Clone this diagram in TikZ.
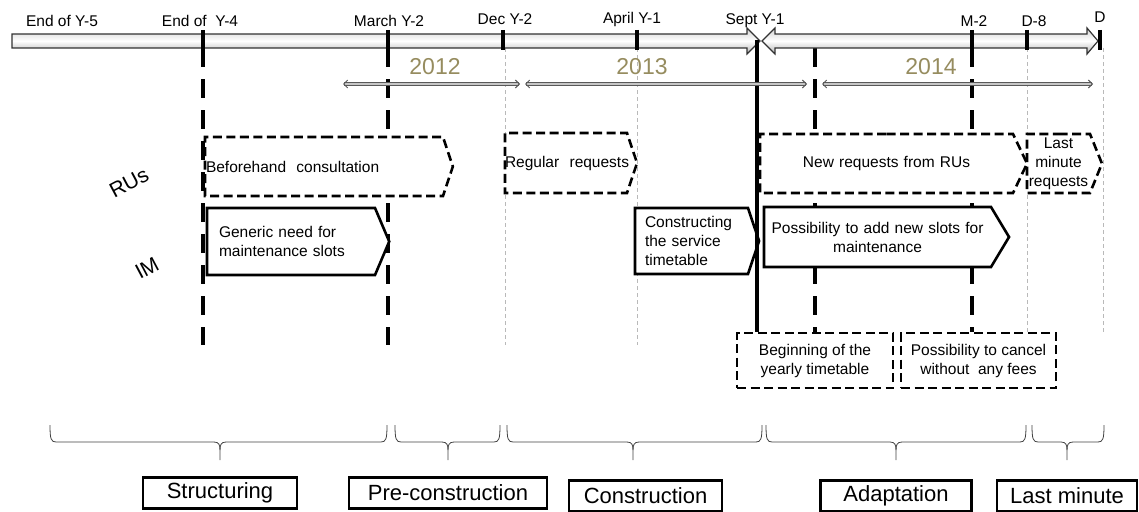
\documentclass[tikz,border=0pt]{standalone}
\usepackage{fontspec}
\setmainfont{Liberation Sans}
\usetikzlibrary{positioning,shapes.symbols,arrows.meta,backgrounds}

\definecolor{yearcol}{RGB}{150,140,95}

\begin{document}
\begin{tikzpicture}[x=1pt, y=-1pt,
            datelabel/.style={anchor=base, inner sep=0pt, font=\fontsize{15.5}{18}\selectfont},
            yearlabel/.style={inner sep=0pt, text=yearcol, font=\fontsize{23}{27}\selectfont},
            rowlabel/.style={inner sep=0pt, rotate=28, font=\fontsize{21}{24}\selectfont},
            rubox/.style={draw=black, line width=2.6pt, dash pattern=on 9pt off 4.5pt, fill=white, signal, signal to=east, inner ysep=0pt, font=\fontsize{15.5}{19}\selectfont},
            imbox/.style={draw=black, line width=2.6pt, fill=white, signal, signal to=east, inner ysep=0pt, font=\fontsize{15.5}{19}\selectfont},
            notebox/.style={draw=black, line width=2.6pt, dash pattern=on 9pt off 4.5pt, fill=white, rectangle, minimum width=155pt, minimum height=55pt, align=center, font=\fontsize{15.5}{19}\selectfont},
            phasebox/.style={draw=black, line width=2.6pt, rectangle, minimum height=31pt, inner sep=0pt, font=\fontsize{22}{26}\selectfont},
            timebar/.style={draw=black!80, line width=1.2pt, top color=gray!35, bottom color=gray!60, middle color=white},
            tickmark/.style={line width=4pt},
            markline/.style={line width=4pt, dash pattern=on 19pt off 12pt},
            guideline/.style={draw=gray!55, line width=0.6pt, dash pattern=on 4pt off 3pt},
            yeararrow/.style={draw=black!65, double=gray!45, double distance=1.6pt, line width=1pt, {Straight Barb[length=4pt,width=8pt]}-{Straight Barb[length=4pt,width=8pt]}},
            phasebrace/.style={draw=black!75, line width=0.8pt}
        ]
        \useasboundingbox (0,0) rectangle (1139,511);

        % dates
        \node[datelabel] (lY5) at (62,27) {End of Y-5};
        \node[datelabel] (lY4) at (200,27) {End of~~Y-4};
        \node[datelabel] (lMar) at (389,27) {March Y-2};
        \node[datelabel] (lDec) at (505,25) {Dec Y-2};
        \node[datelabel] (lApr) at (632,24) {April Y-1};
        \node[datelabel] (lSep) at (755,25) {Sept Y-1};
        \node[datelabel] (lM2) at (974,27) {M-2};
        \node[datelabel] (lD8) at (1034,27) {D-8};
        \node[datelabel] (lD) at (1100,23) {D};

        % years
        \node[yearlabel] (y12) at (435,67) {2012};
        \node[yearlabel] (y13) at (642,67) {2013};
        \node[yearlabel] (y14) at (931,67) {2014};

        % actors
        \node[rowlabel] (ru) at (129,183) {RUs};
        \node[rowlabel] (im) at (147,268) {IM};

        % RUs row
        \node[rubox, text width=236pt, inner xsep=1pt, align=left, minimum height=59pt, signal pointer angle=143] (consult) at (324,166.5) {Beforehand~~consultation};
        \node[rubox, text width=122pt, inner xsep=0pt, align=left, minimum height=60pt, signal pointer angle=143] (regular) at (566,163) {\mbox{Regular~~requests}};
        \node[rubox, text width=249pt, inner xsep=2pt, align=center, minimum height=59pt, signal pointer angle=129] (newreq) at (886.5,163.5) {New requests from RUs};
        \node[rubox, text width=61pt, inner xsep=1pt, align=center, minimum height=59pt, signal pointer angle=136] (lastreq) at (1058.5,163.5) {Last\\minute\\requests};

        % IM row
        \node[imbox, text width=144pt, inner xsep=12pt, align=left, minimum height=67pt, signal pointer angle=134] (generic) at (291,241.5) {Generic need for\\maintenance slots};
        \node[imbox, text width=93pt, inner xsep=10pt, align=left, minimum height=66pt, signal pointer angle=143] (construct) at (691.5,241) {Constructing\\the service\\timetable};
        \node[imbox, text width=223pt, inner xsep=2pt, align=center, minimum height=60pt, signal pointer angle=118] (addslots) at (877.5,237) {Possibility to add new slots for\\maintenance};

        % remarks
        \node[notebox, minimum width=156pt] (yearly) at (815,360.5) {Beginning of the\\yearly timetable};
        \node[notebox] (cancel) at (978.5,360.5) {Possibility to cancel\\without~~any fees};

        \begin{scope}[on background layer]
            \foreach \x in {505,637} \draw[guideline] (\x,48) -- (\x,345);
            \foreach \x in {1027,1103} \draw[guideline] (\x,48) -- (\x,333);
            \foreach \x in {203,388} \draw[markline] (\x,48) -- (\x,345);
            \coordinate (mA) at (815,48);
            \coordinate (mB) at (972,48);
            \draw[markline] (mA) -- (mA |- yearly.north);
            \draw[markline] (mB) -- (mB |- cancel.north);
        \end{scope}

        % time axis
        \draw[timebar] (12,34) -- (747,34) -- (747,28) -- (760,41) -- (747,54) -- (747,48) -- (12,48) -- cycle;
        \draw[timebar] (762,41) -- (775,28) -- (775,34) -- (1087,34) -- (1087,28) -- (1098,41) -- (1087,54) -- (1087,48) -- (775,48) -- (775,54) -- cycle;
        \foreach \x in {203,388,503,637,972,1027,1100} \draw[tickmark] (\x,30) -- (\x,50);
        \coordinate (sept) at (757,40);
        \draw[line width=4pt] (sept) -- (sept |- yearly.north);

        \draw[yeararrow] (343,84) -- (520,84);
        \draw[yeararrow] (525,84) -- (807,84);
        \draw[yeararrow] (822,84) -- (1093,84);

        % phases
        \foreach \bl/\bm/\br/\nm in {50/220/387/pS, 395/448/500/pP, 507/633/762/pC, 766/896/1026/pA, 1032/1067/1104/pL}{
            \draw[phasebrace] (\bl,425) .. controls (\bl,439) and (\bl+1,442) .. (\bl+6,442) -- (\bm-6,442) .. controls (\bm-1,442) and (\bm,445) .. (\bm,450) -- (\bm,460);
            \draw[phasebrace] (\br,425) .. controls (\br,439) and (\br-1,442) .. (\br-6,442) -- (\bm+6,442) .. controls (\bm+1,442) and (\bm,445) .. (\bm,450);
            \coordinate (\nm) at (\bm,460);
        }
        \node[phasebox, minimum width=154pt, below=16pt of pS] (structuring) {Structuring};
        \node[phasebox, minimum width=198pt, below=16pt of pP] (precons) {Pre-construction};
        \node[phasebox, minimum width=153pt, below=19pt of pC, xshift=12.5pt] (cons) {Construction};
        \node[phasebox, minimum width=151pt, below=19pt of pA] (adapt) {Adaptation};
        \node[phasebox, minimum width=140pt, below=19pt of pL] (lastmin) {Last minute};

    \end{tikzpicture}
\end{document}
